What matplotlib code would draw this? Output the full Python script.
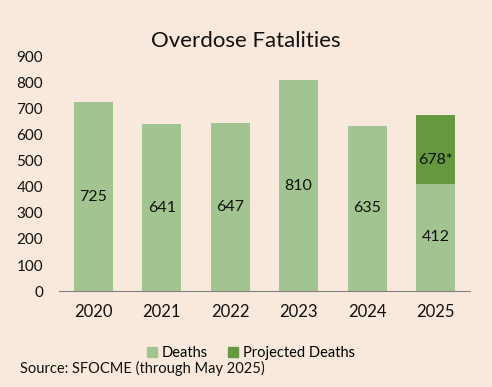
import numpy as np
import matplotlib as mpl
from matplotlib import pyplot as plt
from matplotlib.patches import Patch

mpl.rcParams['font.family'] = ['Lato', 'DejaVu Sans']

years = ['2020', '2021', '2022', '2023', '2024', '2025']
deaths = [725, 641, 647, 810, 635, 412]
projected_total = 678
projected_extra = [0, 0, 0, 0, 0, projected_total - deaths[-1]]

bg = '#F8E9DC'
light = '#A2C490'
dark = '#66993F'
ink = '#111111'

fig = plt.figure(figsize=(4.92, 3.87), dpi=100, facecolor=bg)
ax = fig.add_axes([0.12, 0.248, 0.835, 0.605], facecolor=bg)

x = np.arange(len(years))
width = 0.57
ax.bar(x, deaths, width, color=light, label='Deaths')
ax.bar(x, projected_extra, width, bottom=deaths, color=dark, label='Projected Deaths')

for i, d in enumerate(deaths):
    ax.text(x[i], d / 2, str(d), ha='center', va='center', fontsize=11.5, color=ink)
# projected label sits a bit below the middle of the dark segment
ax.text(x[-1], deaths[-1] + 0.35 * projected_extra[-1], f'{projected_total}*',
        ha='center', va='center', fontsize=11.5, color=ink)

ax.set_xlim(-0.5, len(years) - 0.5)
ax.set_ylim(0, 900)
ax.set_yticks(range(0, 901, 100))
ax.set_xticks(x)
ax.set_xticklabels(years)
ax.tick_params(axis='both', length=0, colors=ink)
ax.tick_params(axis='x', pad=9, labelsize=12)
ax.tick_params(axis='y', pad=11.5, labelsize=11)
for s in ['top', 'right', 'left']:
    ax.spines[s].set_visible(False)
ax.spines['bottom'].set_color('#7F7F7F')

fig.text(0.5, 0.895, 'Overdose Fatalities', ha='center', va='center', fontsize=16, color=ink)

handles = [Patch(color=light), Patch(color=dark)]
fig.legend(handles, ['Deaths', 'Projected Deaths'], loc='center', bbox_to_anchor=(0.51, 0.088),
           ncol=2, frameon=False, fontsize=10.5, handlelength=0.7, handleheight=0.7,
           handletextpad=0.3, columnspacing=1.4)
fig.text(0.04, 0.048, 'Source: SFOCME (through May 2025)', ha='left', va='center', fontsize=10.5,
         color=ink)

fig.savefig('out.png', dpi=100, facecolor=bg)
